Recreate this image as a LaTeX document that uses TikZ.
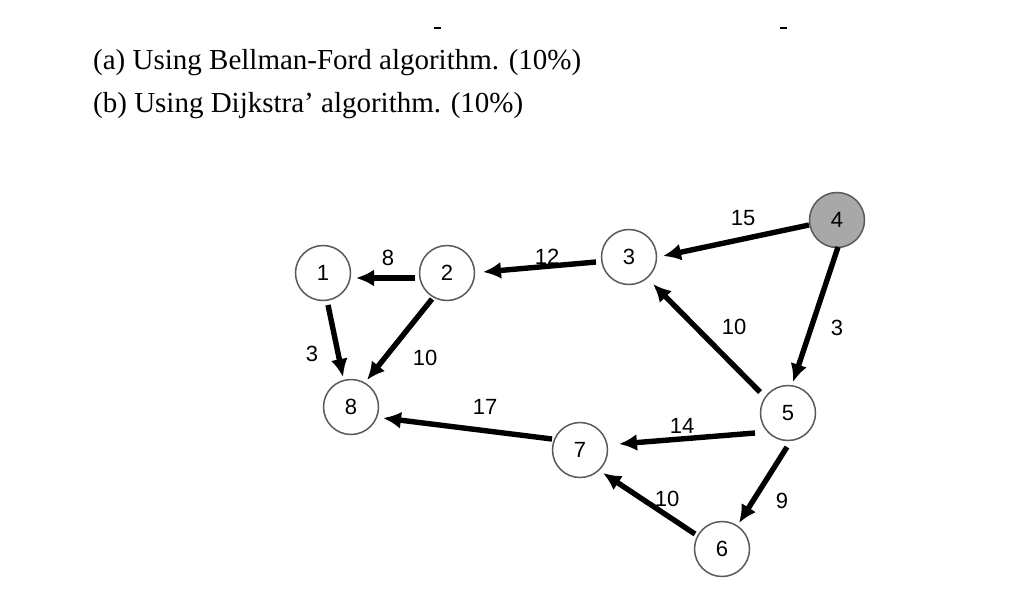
\documentclass[tikz,border=0pt]{standalone}
\usepackage{fontspec}
\setmainfont{Liberation Serif}
\newfontfamily\labfont{Liberation Sans}
\usetikzlibrary{arrows.meta,calc}
\definecolor{ringgray}{HTML}{5A5A5A}
\definecolor{srcgray}{HTML}{A8A8A8}
\begin{document}
\begin{tikzpicture}[x=1pt,y=-1pt,
  vtx/.style={circle,draw=ringgray,line width=1.5pt,minimum size=55pt,inner sep=0pt,
    font=\labfont\fontsize{22}{24}\selectfont},
  srcvtx/.style={vtx,fill=srcgray},
  edge/.style={line width=5.4pt,-{Latex[length=18pt,width=17pt]}},
  wlab/.style={font=\labfont\fontsize{22}{24}\selectfont,inner sep=1pt},
  qtext/.style={anchor=base west,inner sep=0pt,font=\fontsize{29}{31}\selectfont}]
\useasboundingbox (0,0) rectangle (1024,610);
\fill[white] (0,0) rectangle (1024,610);
% header text
\node[qtext] (qa) at (93,69) {(a) Using Bellman-Ford algorithm. (10\%)};
\node[qtext] (qb) at (93,112) {(b) Using Dijkstra' algorithm. (10\%)};
\draw[line width=1.2pt] (434,28) -- (441,28);
\draw[line width=1.2pt] (780,28) -- (787,28);
% vertices
\node[vtx] (n1) at (323,273) {1};
\node[vtx] (n2) at (447,273) {2};
\node[vtx] (n3) at (629,257) {3};
\node[srcvtx] (n4) at (837,220) {4};
\node[vtx] (n5) at (788,413) {5};
\node[vtx] (n6) at (722,549) {6};
\node[vtx] (n7) at (580,450) {7};
\node[vtx] (n8) at (351,407) {8};
% edges
\draw[edge] ($(n4)+(-28,5)$) -- ($(n3)+(34,-1)$);
\draw[edge] ($(n4)+(1,27)$) -- ($(n5)+(5,-31)$);
\draw[edge] ($(n3)+(-33,5)$) -- ($(n2)+(36,-1)$);
\draw[edge] ($(n2)+(-32,5)$) -- ($(n1)+(33,5)$);
\draw[edge] ($(n1)+(5,32)$) -- ($(n8)+(-8,-30)$);
\draw[edge] ($(n2)+(-15,26)$) -- ($(n8)+(16,-27)$);
\draw[edge] ($(n5)+(-28,-21)$) -- ($(n3)+(24,27)$);
\draw[edge] ($(n7)+(-28,-11)$) -- ($(n8)+(32,11)$);
\draw[edge] ($(n5)+(-33,20)$) -- ($(n7)+(39,-6)$);
\draw[edge] ($(n5)+(-1,34)$) -- ($(n6)+(17,-26)$);
\draw[edge] ($(n6)+(-27,-15)$) -- ($(n7)+(23,23)$);
% weights
\node[wlab] (w43) at (743,218) {15};
\node[wlab] (w45) at (837,328) {3};
\node[wlab] (w32) at (547,257) {12};
\node[wlab] (w21) at (388,258) {8};
\node[wlab] (w18) at (312,354) {3};
\node[wlab] (w28) at (425,358) {10};
\node[wlab] (w53) at (734,327) {10};
\node[wlab] (w78) at (485,407) {17};
\node[wlab] (w57) at (682,426) {14};
\node[wlab] (w56) at (782,501) {9};
\node[wlab] (w67) at (667,499) {10};
\end{tikzpicture}
\end{document}
